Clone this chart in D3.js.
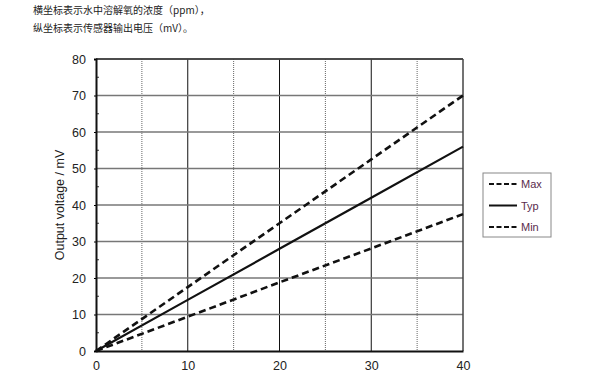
<!DOCTYPE html>
<html>
<head>
<meta charset="utf-8">
<script src="https://cdn.jsdelivr.net/npm/d3@7"></script>
<style>
  body { margin: 0; background: #fff; }
  svg { display: block; }
  .note { font-family: "Noto Sans CJK SC", sans-serif; font-size: 10px; fill: #222; }
  .ticklabel { font-family: Arial, "Liberation Sans", sans-serif; font-size: 12.5px; fill: #222; }
  .legend text { font-family: Arial, "Liberation Sans", sans-serif; font-size: 11px; fill: #5a2c4c; }
</style>
</head>
<body>
<div id="vis"></div>
<script>
// concentration (ppm) vs output (mV)
var ppm = [0, 10, 20, 30, 40];
var maxMv = [0, 17.5, 35, 52.5, 70];
var typMv = [0, 14, 28, 42, 56];
var minMv = [0, 9.4, 18.8, 28.1, 37.5];
var seriesNames = ["Max", "Typ", "Min"];
var xTicks = [0, 10, 20, 30, 40];
var yTicks = [0, 10, 20, 30, 40, 50, 60, 70, 80];
var notes = ["横坐标表示水中溶解氧的浓度（ppm），", "纵坐标表示传感器输出电压（mV）。"];

var W = 600, H = 371;
var margin = {top: 59, left: 96};
var width = 367, height = 292;

var svg = d3.select("#vis").append("svg")
  .attr("width", W).attr("height", H);

svg.selectAll("text.note")
  .data(notes).enter().append("text")
  .attr("class", "note")
  .attr("x", 33)
  .attr("y", function(d, i) { return 14 + i * 18; })
  .text(function(d) { return d; });

var x = d3.scaleLinear().domain([0, 40]).range([0, width]);
var y = d3.scaleLinear().domain([0, 80]).range([height, 0]);

var g = svg.append("g")
  .attr("transform", "translate(" + margin.left + "," + margin.top + ")");

// vertical grid: solid at 10s, dotted at the 5s between
var vlines = d3.range(5, 40, 5);
g.selectAll("line.vgrid")
  .data(vlines).enter().append("line")
  .attr("x1", x).attr("x2", x)
  .attr("y1", 0).attr("y2", height)
  .attr("stroke", function(d) { return d % 10 == 0 ? "#111" : "#666"; })
  .attr("stroke-width", 1)
  .attr("stroke-dasharray", function(d) { return d % 10 == 0 ? null : "1,1"; });

// horizontal grid
g.selectAll("line.hgrid")
  .data(yTicks.slice(1)).enter().append("line")
  .attr("x1", 0).attr("x2", width)
  .attr("y1", y).attr("y2", y)
  .attr("stroke", "#777")
  .attr("stroke-width", 1.6);

// frame
g.append("line").attr("x1", 0).attr("x2", width).attr("y1", 0).attr("y2", 0)
  .attr("stroke", "#333").attr("stroke-width", 1.5);
g.append("line").attr("x1", width).attr("x2", width).attr("y1", 0).attr("y2", height)
  .attr("stroke", "#444").attr("stroke-width", 1.5);

// minor y ticks (inside)
g.selectAll("line.minor")
  .data(d3.range(5, 80, 10)).enter().append("line")
  .attr("x1", 0).attr("x2", 3)
  .attr("y1", y).attr("y2", y)
  .attr("stroke", "#333");

var yAxis = g.append("g")
  .call(d3.axisLeft(y).tickValues(yTicks).tickSize(2).tickPadding(8));
yAxis.attr("font-family", null).attr("font-size", null);
yAxis.select(".domain").attr("stroke", "#111").attr("stroke-width", 2);
yAxis.selectAll("text").attr("class", "ticklabel").attr("fill", null);

var xAxis = g.append("g")
  .attr("transform", "translate(0," + height + ")")
  .call(d3.axisBottom(x).tickValues(xTicks).tickSize(0).tickPadding(10));
xAxis.attr("font-family", null).attr("font-size", null);
xAxis.select(".domain").attr("stroke", "#111").attr("stroke-width", 2);
xAxis.selectAll("text").attr("class", "ticklabel").attr("fill", null);

svg.append("text")
  .attr("class", "ticklabel")
  .attr("transform", "translate(64," + (margin.top + height / 2) + ") rotate(-90)")
  .attr("text-anchor", "middle")
  .text("Output voltage / mV");

var line = d3.line()
  .x(function(d, i) { return x(ppm[i]); })
  .y(function(d) { return y(d); });

var styles = {
  Max: {w: 2.6, dash: "7,4"},
  Typ: {w: 2.2, dash: null},
  Min: {w: 2.6, dash: "7,4"}
};
var series = [maxMv, typMv, minMv];

g.selectAll("path.series")
  .data(series).enter().append("path")
  .attr("d", line)
  .attr("fill", "none")
  .attr("stroke", "#111")
  .attr("stroke-width", function(d, i) { return styles[seriesNames[i]].w; })
  .attr("stroke-dasharray", function(d, i) { return styles[seriesNames[i]].dash; });

// legend
var lg = svg.append("g").attr("class", "legend")
  .attr("transform", "translate(483,173)");
lg.append("rect")
  .attr("width", 68).attr("height", 64)
  .attr("fill", "#fff").attr("stroke", "#888").attr("stroke-width", 1);

var item = lg.selectAll("g.item")
  .data(seriesNames).enter().append("g")
  .attr("transform", function(d, i) { return "translate(0," + (11 + i * 21.5) + ")"; });
item.append("line")
  .attr("x1", 6).attr("x2", 34)
  .attr("stroke", "#111")
  .attr("stroke-width", 2)
  .attr("stroke-dasharray", function(d) { return d == "Typ" ? null : "5,2.5"; });
item.append("text")
  .attr("x", 38).attr("y", 4)
  .text(function(d) { return d; });
</script>
</body>
</html>
